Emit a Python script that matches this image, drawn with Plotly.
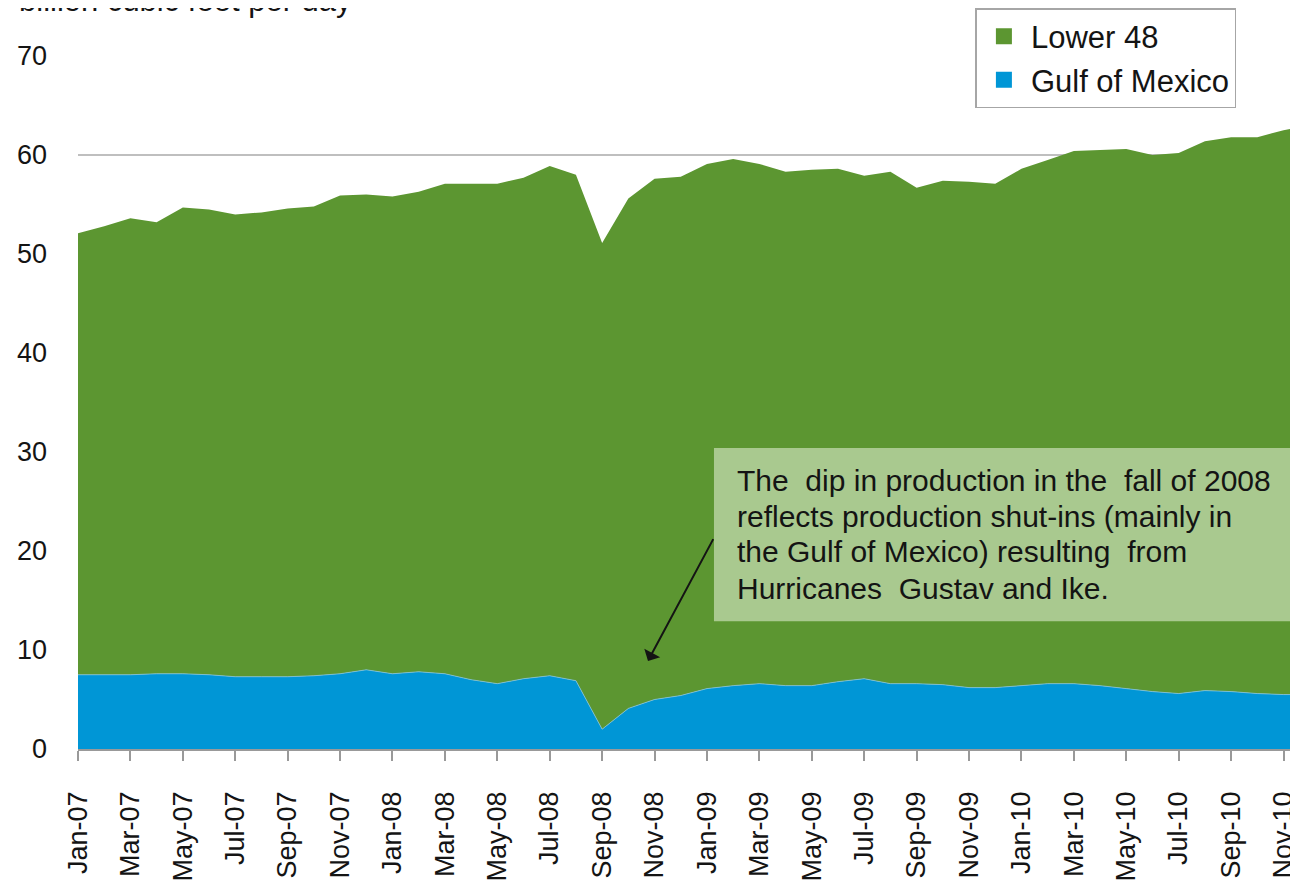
import plotly.graph_objects as go
import pandas as pd

months = [d.strftime("%b-%y") for d in pd.date_range("2007-01-01", "2010-12-01", freq="MS")]
tick_labels = months[::2]

gulf_of_mexico = [7.5, 7.5, 7.5, 7.6, 7.6, 7.5, 7.3, 7.3, 7.3, 7.4, 7.6, 8.0,
                  7.6, 7.8, 7.6, 7.0, 6.6, 7.1, 7.4, 6.9, 2.0, 4.1, 5.0, 5.4,
                  6.1, 6.4, 6.6, 6.4, 6.4, 6.8, 7.1, 6.6, 6.6, 6.5, 6.2, 6.2,
                  6.4, 6.6, 6.6, 6.4, 6.1, 5.8, 5.6, 5.9, 5.8, 5.6, 5.5, 5.5]
lower_48 = [44.6, 45.3, 46.1, 45.6, 47.1, 47.0, 46.7, 46.9, 47.3, 47.4, 48.3, 48.0,
            48.2, 48.5, 49.5, 50.1, 50.5, 50.6, 51.5, 51.1, 49.1, 51.5, 52.6, 52.4,
            53.0, 53.2, 52.5, 51.9, 52.1, 51.8, 50.8, 51.7, 50.1, 50.9, 51.1, 50.9,
            52.2, 52.9, 53.8, 54.1, 54.5, 54.2, 54.6, 55.5, 56.0, 56.2, 57.0, 57.5]

note_lines = ["The  dip in production in the  fall of 2008",
              "reflects production shut-ins (mainly in",
              "the Gulf of Mexico) resulting  from",
              "Hurricanes  Gustav and Ike."]
note_line_y = [27.1, 23.5, 19.9, 16.2]

GREEN = "#5C9631"
BLUE = "#0096D6"
FONT = "Liberation Sans, Arial, sans-serif"
INK = "#141414"

fig = go.Figure()
fig.add_trace(go.Scatter(x=months, y=gulf_of_mexico, name="Gulf of Mexico", stackgroup="one",
                         mode="lines", line=dict(width=0.8, color="#7FC2E0"), fillcolor=BLUE,
                         showlegend=False))
fig.add_trace(go.Scatter(x=months, y=lower_48, name="Lower 48", stackgroup="one",
                         mode="lines", line=dict(width=0, color=GREEN), fillcolor=GREEN,
                         showlegend=False))
# legend entries (square swatches)
fig.add_trace(go.Scatter(x=[None], y=[None], mode="markers", name="Lower 48", legendgroup="a",
                         marker=dict(symbol="square", size=16, color=GREEN)))
fig.add_trace(go.Scatter(x=[None], y=[None], mode="markers", name="Gulf of Mexico", legendgroup="b",
                         marker=dict(symbol="square", size=16, color=BLUE)))

# annotation box
fig.add_shape(type="rect", xref="paper", yref="y", x0=0.523, x1=1.05, y0=12.9, y1=30.4,
              fillcolor="#A9C98F", line=dict(width=0), layer="above")
for line, ly in zip(note_lines, note_line_y):
    fig.add_annotation(xref="paper", yref="y", x=0.540, y=ly, xanchor="left", yanchor="middle",
                       align="left", showarrow=False, text=line,
                       font=dict(family=FONT, size=30, color=INK))
# arrow
fig.add_annotation(xref="x", yref="y", axref="x", ayref="y", x=21.75, y=8.9, ax=24.27, ay=21.35,
                   text="", showarrow=True, arrowhead=1, arrowsize=1.5, arrowwidth=2,
                   arrowcolor=INK)
# clipped unit title at top
fig.add_annotation(xref="paper", yref="paper", x=-0.05, y=(742 - 11) / 695, xanchor="left",
                   yanchor="bottom", showarrow=False, text="billion cubic feet per day",
                   font=dict(family=FONT, size=31, color=INK))

fig.update_layout(
    width=1290, height=874,
    margin=dict(l=70, r=0, t=47, b=132),
    paper_bgcolor="white", plot_bgcolor="white",
    font=dict(family=FONT, color=INK),
    legend=dict(x=0.738, y=1.069, xanchor="left", yanchor="top", traceorder="normal",
                bgcolor="white", bordercolor="#A6A6A6", borderwidth=1.5,
                font=dict(family=FONT, size=31, color=INK),
                itemwidth=44, entrywidth=265, tracegroupgap=6),
    xaxis=dict(type="category", range=[0, 46.4], tickmode="array",
               tickvals=tick_labels, ticktext=tick_labels, tickangle=-90,
               tickfont=dict(family=FONT, size=27, color=INK),
               ticks="outside", ticklen=10, tickcolor="#999999", tickwidth=1.5,
               showline=True, linecolor="#999999", linewidth=1.5,
               showgrid=False, zeroline=False, ticklabelstandoff=20),
    yaxis=dict(range=[0, 70], tickvals=[0, 10, 20, 30, 40, 50, 60, 70],
               tickfont=dict(family=FONT, size=27, color=INK),
               showgrid=True, gridcolor="#BFBFBF", gridwidth=2,
               zeroline=False, showline=False, ticks="", ticklabelstandoff=30),
    showlegend=True,
)

fig.write_html("out.html")
